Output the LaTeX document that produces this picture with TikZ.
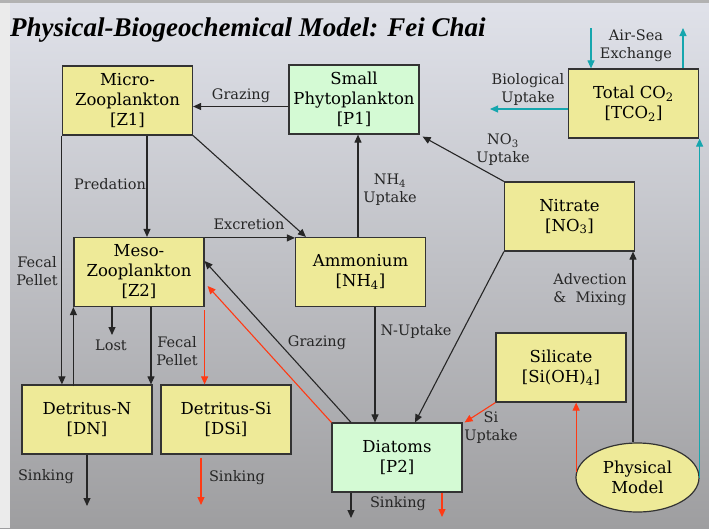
\documentclass[tikz,border=0pt]{standalone}
\usepackage{fontspec}
\setmainfont{DejaVu Serif}
\newfontfamily\titlefont{Liberation Serif}
\usetikzlibrary{arrows.meta,shapes.geometric}
\definecolor{boxyellow}{RGB}{238,234,152}
\definecolor{boxgreen}{RGB}{212,250,212}
\definecolor{seateal}{RGB}{22,166,174}
\definecolor{sired}{RGB}{255,58,20}
\definecolor{skytop}{RGB}{224,226,234}
\definecolor{skymid}{RGB}{204,206,212}
\definecolor{seabot}{RGB}{158,158,160}

\begin{document}
\begin{tikzpicture}[x=1pt,y=-1pt,
	pool/.style={draw=black!80,line width=1.2pt,fill=boxyellow,minimum width=130pt,minimum height=69pt,inner sep=0pt,align=center,font=\fontsize{16.5}{20}\selectfont},
	phyto/.style={pool,fill=boxgreen},
	lbl/.style={align=center,inner sep=0pt,font=\fontsize{14.5}{18}\selectfont,text=black!85},
	flow/.style={draw=black!85,line width=1.1pt,-{Triangle[length=8pt,width=7pt]}},
	siflow/.style={flow,draw=sired},
	co2flow/.style={flow,draw=seateal}]
				%%%%% BACKGROUND %%%%%
				\useasboundingbox (0,0) rectangle (709,528);
				\shade[top color=skytop,middle color=skymid,bottom color=seabot] (0,0) rectangle (709,528);
				\fill[black!8] (0,0) rectangle (10,528);
				\fill[black!30] (0,0) rectangle (709,3);
				
				\node[anchor=base west,inner sep=0pt] (title) at (10,36) {\titlefont\fontsize{27}{32}\selectfont\bfseries\itshape Physical-Biogeochemical Model: Fei Chai};
				
				%%%%% POOLS %%%%%
				\node[pool] (z1) at (127.5,100.5) {Micro-\\Zooplankton\\{}[Z1]};
				\node[phyto] (p1) at (354,99.5) {Small\\Phytoplankton\\{}[P1]};
				\node[pool] (tco) at (633.5,103.5) {Total CO\textsubscript{2}\\{}[TCO\textsubscript{2}]};
				\node[pool] (no3) at (569.5,216.5) {Nitrate\\{}[NO\textsubscript{3}]};
				\node[pool] (nh4) at (360.5,272) {Ammonium\\{}[NH\textsubscript{4}]};
				\node[pool] (z2) at (139,272) {Meso-\\Zooplankton\\{}[Z2]};
				\node[pool] (si) at (561,367.5) {Silicate\\{}[Si(OH)\textsubscript{4}]};
				\node[pool] (dn) at (87,419.5) {Detritus-N\\{}[DN]};
				\node[pool] (dsi) at (226,419.5) {Detritus-Si\\{}[DSi]};
				\node[phyto] (p2) at (397,457.5) {Diatoms\\{}[P2]};
				\node[pool,ellipse,minimum width=123pt,minimum height=69pt] (phys) at (637.5,477.5) {Physical\\Model};
				
				%%%%% FREE ENDS %%%%%
				\coordinate (bio) at (490,109);
				\coordinate (air in) at (591,28);
				\coordinate (air out) at (683,28);
				\coordinate (lost) at (112,335);
				\coordinate (dn sink) at (87,506);
				\coordinate (dsi sink) at (201,505);
				\coordinate (p2 sink) at (351,518);
				\coordinate (p2 sisink) at (442,517);
				
				%%%%% NITROGEN FLOWS %%%%%
				\draw[flow] ([yshift=-7pt]p1.west) -- ([yshift=-6pt]z1.east);
				\draw[flow] (z1.south east) -- ([xshift=11pt]nh4.north west);
				\draw[flow] ([yshift=-1pt]z2.north east) -- ([yshift=-1pt]nh4.north west);
				\draw[flow] ([xshift=19.5pt]z1.south) -- ([xshift=8pt]z2.north);
				\draw[flow] ([xshift=-2.5pt]nh4.north) -- ([xshift=4pt]p1.south);
				\draw[flow] (no3.north west) -- ([xshift=3pt,yshift=-2pt]p1.south east);
				\draw[flow] (no3.south west) -- ([xshift=18pt]p2.north);
				\draw[flow] ([xshift=14.5pt]nh4.south) -- ([xshift=-22pt]p2.north);
				\draw[flow] ([xshift=-46pt]p2.north) -- ([yshift=11pt]z2.east);
				\draw[flow] ([xshift=12pt]z2.south) -- ([xshift=12pt]z2.south |- dn.north);
				\draw[flow] ([xshift=-27pt]z2.south) -- (lost);
				\draw[flow] ([yshift=-2pt]z2.south west |- dn.north) -- (z2.south west);
				\draw[flow] (z1.south west) -- (z1.south west |- dn.north);
				\draw[flow] (dn.south) -- (dn sink);
				\draw[flow] (p2.south -| p2 sink) -- (p2 sink);
				\draw[flow] ([xshift=-4.5pt]phys.north) -- ([xshift=-4.5pt]phys.north |- no3.south);
				
				%%%%% SILICON FLOWS %%%%%
				\draw[siflow] (p2.north west) -- ([xshift=3pt,yshift=-14pt]z2.east);
				\draw[siflow] ([yshift=-3pt]z2.south east) -- (z2.south east |- dsi.north);
				\draw[siflow] ([yshift=-3pt]dsi.south -| dsi sink) -- (dsi sink);
				\draw[siflow] (p2.south -| p2 sisink) -- (p2 sisink);
				\draw[siflow] (phys.175) -- (phys.175 |- si.south);
				\draw[siflow] (si.south west) -- ([xshift=2pt]p2.north east);
				
				%%%%% CARBON FLOWS %%%%%
				\draw[co2flow] (tco.west |- bio) -- (bio);
				\draw[co2flow] (air in) -- (air in |- tco.north);
				\draw[co2flow] (air out |- tco.north) -- (air out);
				\draw[co2flow] (phys.east) -- (phys.east |- tco.south);
				
				%%%%% LABELS %%%%%
				\node[lbl] (l graz1) at (241,96) {Grazing};
				\node[lbl] (l pred) at (110,184) {Predation};
				\node[lbl] (l excr) at (249,224) {Excretion};
				\node[lbl] (l nh4) at (390,190) {NH\textsubscript{4}\\Uptake};
				\node[lbl] (l no3) at (503,150) {NO\textsubscript{3}\\Uptake};
				\node[lbl] (l bio) at (528,89) {Biological\\Uptake};
				\node[lbl] (l air) at (636,46) {Air-Sea\\Exchange};
				\node[lbl] (l fec1) at (37,271) {Fecal\\Pellet};
				\node[lbl] (l lost) at (111,345) {Lost};
				\node[lbl] (l fec2) at (177,351) {Fecal\\Pellet};
				\node[lbl] (l graz2) at (317,343) {Grazing};
				\node[lbl] (l nup) at (416,331) {N-Uptake};
				\node[lbl] (l adv) at (590,290) {Advection\\\&\ \ Mixing};
				\node[lbl] (l siup) at (491,428) {Si\\Uptake};
				\node[lbl] (l sink1) at (46,477) {Sinking};
				\node[lbl] (l sink2) at (237,478) {Sinking};
				\node[lbl] (l sink3) at (398,504) {Sinking};
				%%%%% END %%%%%
\end{tikzpicture}
\end{document}
